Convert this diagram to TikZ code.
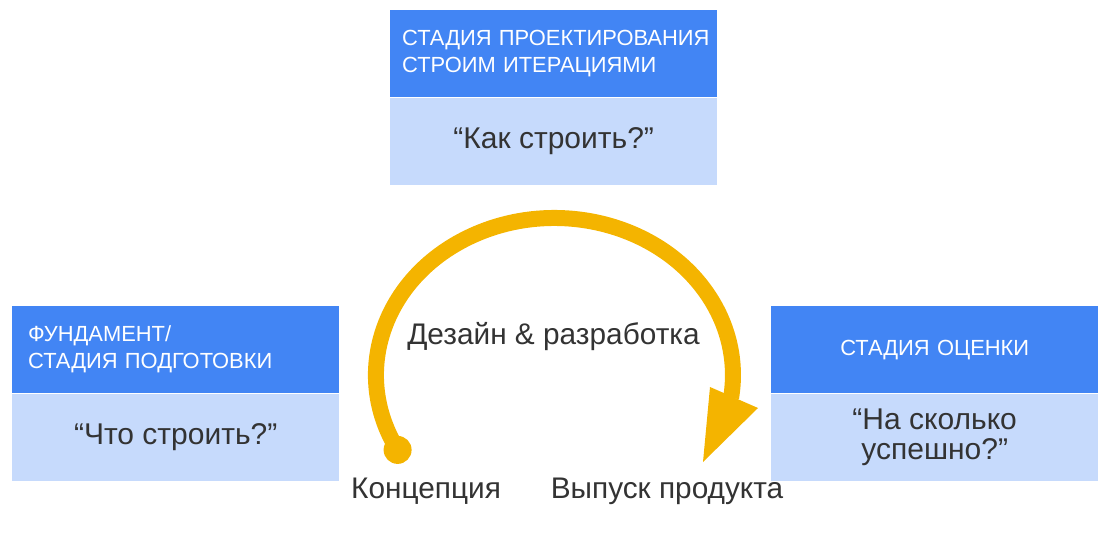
\documentclass[tikz,border=0pt]{standalone}
\usepackage{fontspec}
\setmainfont{Liberation Sans}
\usetikzlibrary{positioning}
\definecolor{hdrblue}{HTML}{4285F4}
\definecolor{bodyblue}{HTML}{C6DAFC}
\definecolor{arcyellow}{HTML}{F4B400}
\definecolor{txtgray}{HTML}{333333}

\begin{document}
\begin{tikzpicture}[
  x=1pt, y=1pt,
  header/.style={rectangle, fill=hdrblue, text=white, minimum width=327pt,
                 minimum height=87pt, inner ysep=0pt, align=left,
                 font=\fontsize{21.9}{27}\selectfont},
  answer/.style={rectangle, fill=bodyblue, text=txtgray, minimum width=327pt,
                 minimum height=87pt, inner sep=0pt, align=center,
                 font=\fontsize{30}{30}\selectfont},
  steplabel/.style={text=txtgray, inner sep=0pt, font=\fontsize{29.8}{30}\selectfont}
]
  \useasboundingbox (0,0) rectangle (1110,533);

  % stage boxes
  \node[header, text width=303pt, inner xsep=12pt, anchor=north west] (designhdr) at (390,523)
    {СТАДИЯ~ПРОЕКТИРОВАНИЯ\\СТРОИМ~ИТЕРАЦИЯМИ};
  \node[answer, below=0pt of designhdr] (designq) {“Как строить?”};

  \node[header, text width=295pt, inner xsep=16pt, anchor=north west] (basehdr) at (12,227)
    {ФУНДАМЕНТ/\\СТАДИЯ~ПОДГОТОВКИ};
  \node[answer, below=0pt of basehdr] (baseq) {“Что строить?”};

  \node[header, text width=303pt, inner xsep=12pt, align=center, anchor=north west] (evalhdr) at (771,227)
    {СТАДИЯ ОЦЕНКИ};
  \node[answer, below=0pt of evalhdr] (evalq) {“На сколько\\успешно?”};

  % cycle arrow
  \coordinate (concept) at (397.6,83.1);
  \fill[arcyellow] (concept) circle[radius=14];
  \draw[arcyellow, line width=16pt] (concept)
    arc[start angle=208.5, end angle=-8.4, x radius=178.5, y radius=157] coordinate (release);
  \fill[arcyellow] (710,146) -- (758,125) -- (703,71) -- cycle;

  % labels
  \node[steplabel, anchor=base] (devtxt) at (553.5,189) {Дезайн \& разработка};
  \node[steplabel, anchor=base] (concepttxt) at (426,35) {Концепция};
  \node[steplabel, anchor=base] (releasetxt) at (667,35) {Выпуск продукта};
\end{tikzpicture}
\end{document}
